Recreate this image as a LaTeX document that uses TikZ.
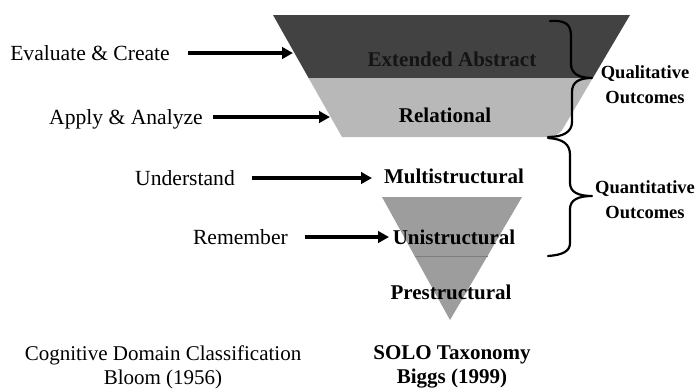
\documentclass[tikz,border=0pt]{standalone}
\usepackage{fontspec}
\setmainfont{Liberation Serif}
\usetikzlibrary{arrows.meta}
\definecolor{darkband}{HTML}{424242}
\definecolor{lightband}{HTML}{B8B8B8}
\definecolor{midtri}{HTML}{9D9D9D}
\definecolor{darktext}{HTML}{141414}
\definecolor{bandline}{HTML}{7E7E7E}
\begin{document}
\begin{tikzpicture}[x=1pt,y=-1pt,
  lbl/.style={inner sep=0pt, font=\fontsize{21.6}{23}\selectfont, text height=14pt, text depth=0pt},
  lvl/.style={inner sep=0pt, font=\fontsize{21}{23}\selectfont\bfseries, text height=14pt, text depth=0pt},
  side/.style={inner sep=0pt, align=center, font=\fontsize{18.5}{25}\selectfont\bfseries},
  capt/.style={inner sep=0pt, align=center, font=\fontsize{21}{24}\selectfont},
  arr/.style={line width=3.8pt, -{Triangle[length=11pt,width=11.5pt]}},
  brc/.style={line width=2.2pt, line cap=round, line join=round}]
\useasboundingbox (0,0) rectangle (700,388);
\fill[white] (0,0) rectangle (700,388);

% upper funnel
\fill[darkband] (273,15) -- (630,15) -- (592.8,78) -- (308.6,78) -- cycle;
\fill[lightband] (308.6,78) -- (592.8,78) [rounded corners=9pt] -- (558,137) [sharp corners] -- (342,137) -- cycle;

% lower triangle
\fill[midtri] (382,197) -- (522,197) -- (450,320) -- cycle;
\draw[bandline, line width=1pt] (414.6,256) -- (487.5,256);

% level labels
\node[lvl, text=darktext] (ext) at (452,59) {Extended Abstract};
\node[lvl] (rel) at (445,115) {Relational};
\node[lvl] (mul) at (454,176) {Multistructural};
\node[lvl] (uni) at (454,237) {Unistructural};
\node[lvl] (pre) at (451,292) {Prestructural};

% Bloom labels
\node[lbl, anchor=east] (ev) at (170,53) {Evaluate \& Create};
\node[lbl, anchor=east] (ap) at (203,117) {Apply \& Analyze};
\node[lbl, anchor=east] (un) at (235,178) {Understand};
\node[lbl, anchor=east] (re) at (288,237) {Remember};

\coordinate (t1) at (293,53);
\coordinate (t2) at (330,117);
\coordinate (t3) at (372,178);
\coordinate (t4) at (389,237);

\draw[arr] ([xshift=18pt]ev.east) -- (t1);
\draw[arr] ([xshift=10pt]ap.east) -- (t2);
\draw[arr] ([xshift=17pt]un.east) -- (t3);
\draw[arr] ([xshift=17pt]re.east) -- (t4);

% braces
\draw[brc] (550,21) .. controls (565,20) and (571,24) .. (571,36) -- (571,64)
  .. controls (571,73) and (578,78) .. (592,78)
  .. controls (579,78) and (572,82) .. (572,92) -- (572,122)
  .. controls (572,132) and (563,137) .. (548,137);
\draw[brc] (548,138) .. controls (563,139) and (570,144) .. (570,155) -- (570,183)
  .. controls (570,192) and (578,196) .. (592,196)
  .. controls (578,196) and (570,200) .. (570,209) -- (570,243)
  .. controls (570,251) and (563,255) .. (548,256);

% outcome labels
\node[side] (qual) at (645,85) {Qualitative\\Outcomes};
\node[side] (quan) at (645,200) {Quantitative\\Outcomes};

% captions
\node[capt] (bloom) at (163,367) {Cognitive Domain Classification\\Bloom (1956)};
\node[capt, font=\fontsize{21}{24}\selectfont\bfseries] (solo) at (452,367) {SOLO Taxonomy\\Biggs (1999)};
\end{tikzpicture}
\end{document}
